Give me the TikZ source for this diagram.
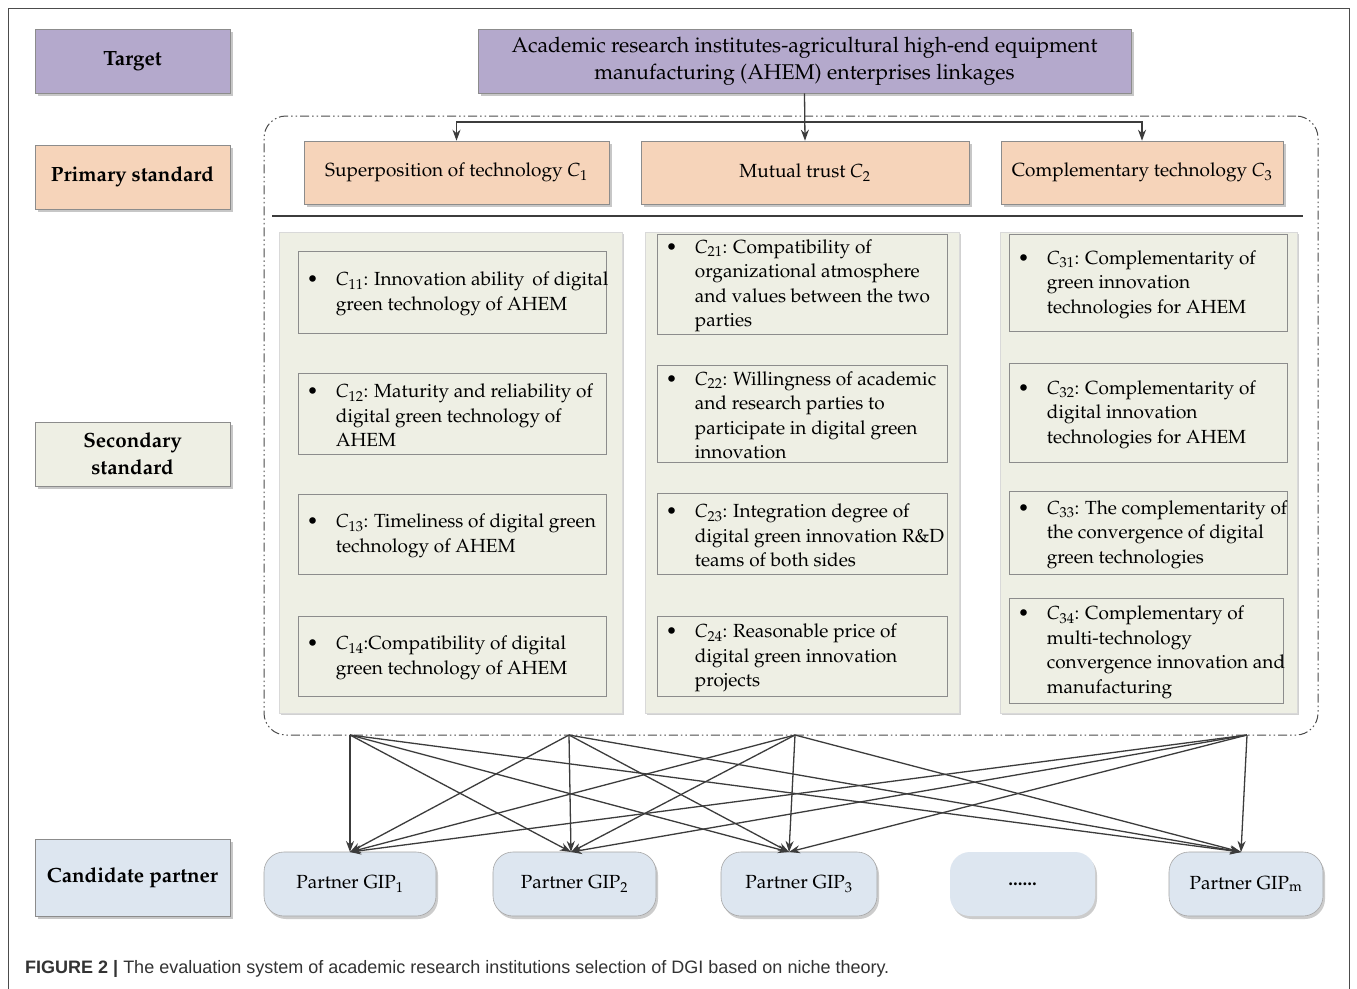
\documentclass[tikz,border=0pt]{standalone}
\usepackage{fontspec}
\usepackage[T1]{fontenc}
\usepackage{mathpazo}
\newfontfamily\capfont{Liberation Sans}
\usetikzlibrary{arrows.meta,shadows,calc}

\definecolor{purplebox}{RGB}{180,169,204}
\definecolor{peachbox}{RGB}{246,212,186}
\definecolor{greenbox}{RGB}{238,239,228}
\definecolor{bluebox}{RGB}{221,230,240}
\definecolor{edgegray}{RGB}{140,140,140}
\definecolor{linegray}{RGB}{60,60,60}

\newcommand\Cs[1]{\textit{C}\textsubscript{#1}}
\newcommand\itemtext[1]{\makebox[30pt][l]{\hspace{1pt}\textbullet}\parbox[t]{300pt}{\raggedright #1}}

\tikzset{
  boxshadow/.style={drop shadow={shadow xshift=3pt,shadow yshift=-3pt,fill=black!22,opacity=1}},
  basebox/.style={draw=edgegray,line width=0.6pt,inner sep=0pt,align=center,
    font=\fontsize{19}{24.5}\selectfont},
  labelbox/.style={basebox,boxshadow,minimum width=195pt,minimum height=64pt,
    font=\fontsize{20.6}{27}\selectfont\bfseries},
  peachnode/.style={basebox,boxshadow,fill=peachbox,minimum height=63pt},
  panel/.style={draw=black!15,fill=greenbox,line width=0.5pt,minimum height=481pt,
    drop shadow={shadow xshift=2pt,shadow yshift=-2pt,fill=black!18,opacity=1}},
  itembox/.style={draw=edgegray,fill=greenbox,line width=0.6pt,inner sep=0pt},
  itemlabel/.style={anchor=west,inner sep=0pt,align=left,xshift=8pt,yshift=-2pt,
    font=\fontsize{19}{24.5}\selectfont},
  partner/.style={basebox,draw=black!35,fill=bluebox,rounded corners=20pt,
    minimum height=64pt,
    drop shadow={shadow xshift=2pt,shadow yshift=-3pt,fill=black!20,opacity=1}},
  arr/.style={draw=linegray,line width=1.3pt,-{Stealth[length=11pt,width=8pt]}},
  groupframe/.style={draw=black!70,line width=1pt,rounded corners=22pt,
    dash pattern=on 9pt off 3pt on 1.5pt off 3pt on 1.5pt off 3pt},
}

\begin{document}
\begin{tikzpicture}[x=1pt,y=-1pt]
\useasboundingbox (0,0) rectangle (1357,988);
\fill[white] (0,0) rectangle (1357,988);
% outer frame
\draw[black!70,line width=1pt] (8,995) -- (8,8) -- (1349,8) -- (1349,995);

% left column labels
\node[labelbox,fill=purplebox] (lblTarget) at (132.5,61) {Target};
\node[labelbox,fill=peachbox] (lblPrimary) at (132.5,177) {Primary standard};
\node[labelbox,fill=greenbox] (lblSecondary) at (132.5,454) {Secondary\\standard};
\node[labelbox,fill=bluebox,minimum height=77pt] (lblCandidate) at (132.5,877.5) {Candidate partner};

% goal
\node[basebox,boxshadow,fill=purplebox,minimum width=653pt,minimum height=64pt,
  font=\fontsize{21.3}{27}\selectfont]
  (goal) at (804.5,61) {Academic research institutes-agricultural high-end equipment\\
  manufacturing (AHEM) enterprises linkages};

% grouping frame and separator
\node[groupframe,minimum width=1054pt,minimum height=619pt] (group) at (791,425.5) {};
\coordinate (sepL) at (272,216);
\coordinate (sepR) at (1303,216);
\draw[linegray,line width=2.5pt] (sepL) -- (sepR);

% primary standards
\node[peachnode,minimum width=305pt] (c1) at (456.5,172.5) {Superposition of technology \Cs{1}};
\node[peachnode,minimum width=328pt] (c2) at (805,172.5) {Mutual trust \Cs{2}};
\node[peachnode,minimum width=282pt] (c3) at (1142,172.5) {Complementary technology \Cs{3}};

\coordinate (hub) at (805,122);
\draw[arr] (goal.south) -- (c2.north);
\draw[arr] (hub) -| (c1.north);
\draw[arr] (hub) -| (c3.north);

% secondary standard panels
\node[panel,minimum width=343pt] (col1) at (450.5,472.5) {};
\node[panel,minimum width=314pt] (col2) at (802,472.5) {};
\node[panel,minimum width=297pt] (col3) at (1148.5,472.5) {};

% column 1
\node[itembox,minimum width=308pt,minimum height=82pt] (b11) at (452,292) {};
\node[itemlabel] (t11) at (b11.west) {\itemtext{\Cs{11}: Innovation ability\, of digital\\green technology of AHEM}};
\node[itembox,minimum width=308pt,minimum height=81pt] (b12) at (452,413.5) {};
\node[itemlabel] (t12) at (b12.west) {\itemtext{\Cs{12}: Maturity and reliability of\\digital green technology of\\AHEM}};
\node[itembox,minimum width=308pt,minimum height=80pt] (b13) at (452,534) {};
\node[itemlabel] (t13) at (b13.west) {\itemtext{\Cs{13}: Timeliness of digital green\\technology of AHEM}};
\node[itembox,minimum width=308pt,minimum height=80pt] (b14) at (452,656) {};
\node[itemlabel] (t14) at (b14.west) {\itemtext{\Cs{14}:Compatibility of digital\\green technology of AHEM}};

% column 2
\node[itembox,minimum width=290pt,minimum height=100pt] (b21) at (802,284) {};
\node[itemlabel] (t21) at (b21.west) {\itemtext{\Cs{21}: Compatibility of\\organizational atmosphere\\and values between the two\\parties}};
\node[itembox,minimum width=290pt,minimum height=97pt] (b22) at (802,413.5) {};
\node[itemlabel] (t22) at (b22.west) {\itemtext{\Cs{22}: Willingness of academic\\and research parties to\\participate in digital green\\innovation}};
\node[itembox,minimum width=290pt,minimum height=81pt] (b23) at (802,533.5) {};
\node[itemlabel] (t23) at (b23.west) {\itemtext{\Cs{23}: Integration degree of\\digital green innovation R\&D\\teams of both sides}};
\node[itembox,minimum width=290pt,minimum height=80pt] (b24) at (802,656) {};
\node[itemlabel] (t24) at (b24.west) {\itemtext{\Cs{24}: Reasonable price of\\digital green innovation\\projects}};

% column 3
\node[itembox,minimum width=278pt,minimum height=97pt] (b31) at (1148,282.5) {};
\node[itemlabel] (t31) at (b31.west) {\itemtext{\Cs{31}: Complementarity of\\green innovation\\technologies for AHEM}};
\node[itembox,minimum width=278pt,minimum height=99pt] (b32) at (1148,412.5) {};
\node[itemlabel] (t32) at (b32.west) {\itemtext{\Cs{32}: Complementarity of\\digital innovation\\technologies for AHEM}};
\node[itembox,minimum width=278pt,minimum height=83pt] (b33) at (1148,532.5) {};
\node[itemlabel] (t33) at (b33.west) {\itemtext{\Cs{33}: The complementarity of\\the convergence of digital\\green technologies}};
\node[itembox,minimum width=274pt,minimum height=105pt] (b34) at (1146,650.5) {};
\node[itemlabel] (t34) at (b34.west) {\itemtext{\Cs{34}: Complementary of\\multi-technology\\convergence innovation and\\manufacturing}};

% candidate partners
\node[partner,minimum width=172pt] (p1) at (350,884) {Partner GIP\textsubscript{1}};
\node[partner,minimum width=163pt] (p2) at (574.5,884) {Partner GIP\textsubscript{2}};
\node[partner,minimum width=156pt] (p3) at (799,884) {Partner GIP\textsubscript{3}};
\node[partner,minimum width=145pt,draw=none] (pd) at (1022.5,884) {\textbf{......}};
\node[partner,minimum width=154pt] (pm) at (1246,884) {Partner GIP\textsubscript{m}};

% arrow ends on the frame and on the partners
\coordinate (s1) at (350,735);
\coordinate (s2) at (569,735);
\coordinate (s3) at (795,735);
\coordinate (s4) at (1247,735);
\coordinate (d1) at (350,852);
\coordinate (d2) at (571,852);
\coordinate (d3) at (789,852);
\coordinate (d4) at (1241,852);
\foreach \s in {s1,s2,s3,s4}{
  \foreach \d in {d1,d2,d3,d4}{
    \draw[arr] (\s) -- (\d);
  }
}

% caption
\node[anchor=west,inner sep=0pt,font=\capfont\fontsize{18}{22}\selectfont,text=black!80]
  (caption) at (25,969) {\textbf{FIGURE 2 |} The evaluation system of academic research institutions selection of DGI based on niche theory.};
\end{tikzpicture}
\end{document}
